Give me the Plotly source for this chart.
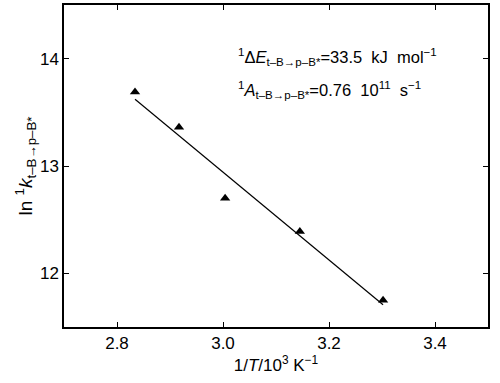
import numpy as np
import plotly.graph_objects as go

inv_T = [2.834, 2.917, 3.004, 3.145, 3.302]
ln_k = [13.69, 13.36, 12.70, 12.39, 11.75]

x_ticks = [2.8, 3.0, 3.2, 3.4]
y_ticks = [12, 13, 14]

# least-squares line through the points
slope, icpt = np.polyfit(inv_T, ln_k, 1)
fit_x = [min(inv_T), max(inv_T)]
fit_y = [slope * v + icpt for v in fit_x]

fig = go.Figure()
fig.add_trace(go.Scatter(x=fit_x, y=fit_y, mode="lines",
                         line=dict(color="black", width=1.2), showlegend=False))
fig.add_trace(go.Scatter(x=inv_T, y=ln_k, mode="markers",
                         marker=dict(symbol="triangle-up", size=9, color="black"),
                         showlegend=False))

sub = "<sub>t\u2013B\u2192p\u2013B*</sub>"
fig.add_annotation(x=0.405, y=0.88, xref="paper", yref="paper", showarrow=False,
                   xanchor="left",
                   text="<sup>1</sup>\u0394<i>E</i>" + sub + "=33.5  kJ  mol<sup>\u22121</sup>",
                   font=dict(size=16.5, color="black"))
fig.add_annotation(x=0.405, y=0.775, xref="paper", yref="paper", showarrow=False,
                   xanchor="left",
                   text="<sup>1</sup><i>A</i>" + sub + "=0.76  10<sup>11</sup>  s<sup>\u22121</sup>",
                   font=dict(size=16.5, color="black"))

axis_style = dict(showline=True, linecolor="black", linewidth=1.5, mirror="ticks",
                  ticks="inside", ticklen=5, tickcolor="black", showgrid=False,
                  zeroline=False, automargin=False, tickfont=dict(size=17, color="black"))

fig.update_xaxes(range=[2.7, 3.5], tickvals=x_ticks, ticktext=["2.8", "3.0", "3.2", "3.4"],
                 title=dict(text="1/<i>T</i>/10<sup>3</sup> K<sup>\u22121</sup>",
                            font=dict(size=17, color="black"), standoff=0),
                 **axis_style)
fig.update_yaxes(range=[11.5, 14.5], tickvals=y_ticks,
                 title=dict(text="ln <sup>1</sup><i>k</i>" + sub,
                            font=dict(size=19, color="black"), standoff=2),
                 **axis_style)

fig.update_layout(width=500, height=383, margin=dict(l=64, r=12, t=5, b=56),
                  plot_bgcolor="white", paper_bgcolor="white",
                  font=dict(family="Liberation Sans, Arial, sans-serif", color="black"))

fig.write_html("out.html", config={"displayModeBar": False},
               post_script="document.body.style.margin='0';")
